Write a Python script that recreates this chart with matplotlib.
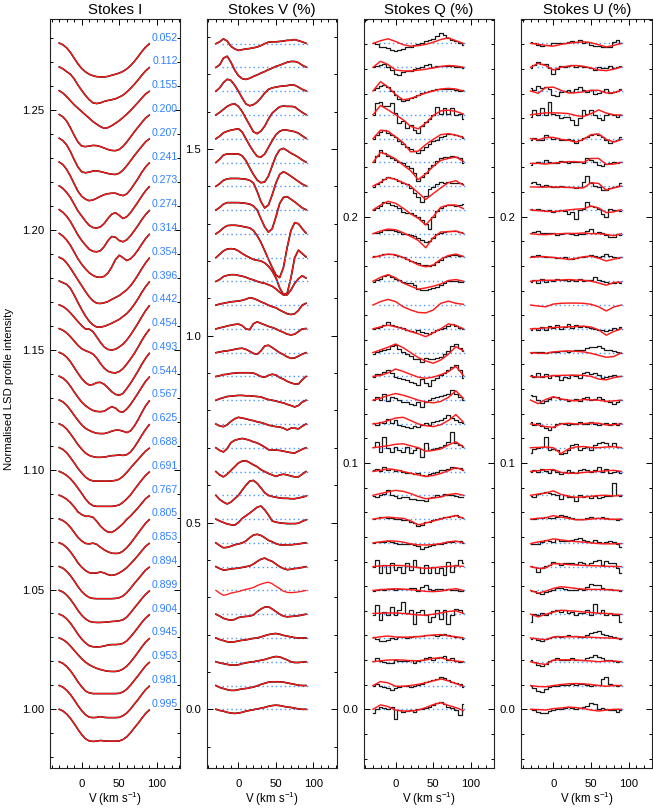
import matplotlib.pyplot as plt
from matplotlib.ticker import MultipleLocator, FormatStrFormatter

plt.rcParams['font.family'] = ['Liberation Sans', 'DejaVu Sans']
plt.rcParams['mathtext.fontset'] = 'custom'
plt.rcParams['mathtext.rm'] = 'Liberation Sans'
plt.rcParams['mathtext.it'] = 'Liberation Sans:italic'

# rotational phases, top to bottom
phases = [0.052, 0.112, 0.155, 0.200, 0.207, 0.241, 0.273, 0.274, 0.314, 0.354,
          0.396, 0.442, 0.454, 0.493, 0.544, 0.567, 0.625, 0.688, 0.691, 0.767,
          0.805, 0.853, 0.894, 0.899, 0.904, 0.945, 0.953, 0.981, 0.995]

# velocity grids (km/s)
vel = [-30, -25, -20, -15, -10, -5, 0, 5, 10, 15, 20, 25, 30, 35, 40, 45, 50,
       55, 60, 65, 70, 75, 80, 85, 90]
vel_model = [-30, -20, -10, 0, 10, 20, 30, 40, 50, 60, 70, 80, 90]

# Stokes I line depth below continuum, units of 1e-4
i_depth = [
    [0,7,20,39,63,87,106,120,130,136,140,141,141,139,134,130,125,118,108,94,77,57,36,17,3],
    [0,8,20,31,50,76,98,119,137,150,153,150,144,140,137,133,126,118,105,90,73,55,35,17,3],
    [0,10,25,42,59,73,87,101,115,129,140,150,157,154,146,136,125,112,98,83,66,49,31,14,3],
    [0,10,28,56,87,115,132,134,132,129,130,134,140,146,150,151,146,133,115,94,73,53,34,15,3],
    [0,10,28,56,90,120,140,144,141,137,136,139,143,147,150,151,146,133,115,94,73,53,34,15,3],
    [0,11,31,59,91,122,143,155,161,158,151,143,136,132,130,130,136,140,133,115,92,69,43,21,4],
    [0,11,28,49,77,105,126,147,165,174,176,171,157,136,118,112,123,136,129,112,90,67,43,21,4],
    [0,11,28,50,78,106,129,148,165,174,176,171,154,129,112,115,129,134,126,109,88,66,42,21,4],
    [0,11,28,50,78,106,129,148,164,175,182,183,179,165,140,109,91,101,113,106,90,69,45,22,4],
    [0,8,24,46,70,95,119,143,165,182,192,193,190,185,176,168,160,148,136,119,98,74,48,24,4],
    [0,7,14,31,59,90,119,146,168,183,192,192,189,183,176,168,160,148,136,119,98,74,48,24,4],
    [0,7,18,34,52,70,87,101,101,112,134,157,176,186,189,185,176,164,147,126,102,77,50,25,4],
    [0,7,18,34,52,70,84,92,98,106,123,146,165,178,183,185,179,167,148,127,104,78,50,25,4],
    [0,7,20,39,63,87,109,126,136,134,126,125,133,148,164,175,179,171,151,129,104,78,50,25,4],
    [0,8,22,42,66,88,108,123,134,143,147,148,146,136,127,133,147,150,137,118,95,71,46,22,4],
    [0,8,22,42,64,85,104,118,127,134,139,140,140,136,130,126,126,130,136,129,109,83,53,25,4],
    [0,8,22,42,64,87,106,122,132,137,140,140,139,136,133,132,130,132,129,118,98,74,48,24,4],
    [0,8,22,42,64,87,106,123,134,139,140,140,140,140,139,137,132,120,104,85,67,50,32,15,3],
    [0,7,17,31,49,70,92,115,133,143,146,146,146,146,146,144,140,129,115,98,77,56,36,17,3],
    [0,7,17,31,49,70,81,88,88,92,109,129,144,154,155,146,133,119,101,87,70,53,34,15,3],
    [0,7,18,35,56,77,92,102,104,101,106,118,129,137,143,144,143,134,120,102,81,60,39,18,3],
    [0,7,20,38,60,84,102,116,125,127,126,122,126,133,136,133,126,116,104,88,71,53,34,15,3],
    [0,7,20,38,60,84,104,119,129,133,134,134,134,134,134,133,130,123,109,91,71,53,34,15,3],
    [0,7,20,38,60,84,104,119,129,133,134,134,133,132,130,129,127,123,112,94,74,55,35,17,3],
    [0,7,20,38,60,84,104,120,132,136,137,136,133,129,127,127,126,122,112,95,76,56,35,17,3],
    [0,7,18,34,52,70,87,101,112,120,127,132,136,139,140,140,137,130,118,101,81,60,38,18,3],
    [0,7,20,38,60,84,105,122,130,133,133,133,133,133,133,133,132,126,115,98,78,59,38,18,3],
    [0,7,20,38,60,84,105,122,132,134,133,130,133,134,134,134,133,126,115,98,78,59,38,18,3],
    [0,7,20,38,60,84,106,123,132,134,133,130,132,133,133,133,132,126,115,98,78,59,38,18,3],
]

# Stokes V (units of 1e-3 %)
v_prof = [
    [0,5,13,7,-7,-14,-18,-16,-14,-13,-11,-9,-5,0,4,5,5,6,7,9,9,11,8,5,1],
    [0,7,25,30,14,-7,-22,-30,-32,-29,-24,-20,-15,-11,-6,-2,3,6,10,14,16,16,13,6,1],
    [0,9,23,32,29,16,0,-18,-34,-39,-36,-29,-18,-5,5,9,11,13,14,15,17,16,11,5,1],
    [0,7,15,23,28,30,23,9,-9,-27,-45,-50,-43,-30,-11,5,14,22,24,23,23,22,14,7,1],
    [0,7,16,20,23,25,27,18,0,-18,-34,-47,-49,-41,-23,-5,11,20,24,23,21,19,15,8,1],
    [0,9,20,23,23,23,23,18,5,-14,-32,-47,-54,-52,-36,-9,18,34,38,32,25,20,14,7,1],
    [0,7,16,20,21,21,21,20,19,16,9,-14,-41,-58,-50,-23,9,32,39,34,27,20,13,6,1],
    [0,7,16,20,20,20,20,19,18,16,11,0,-23,-45,-59,-50,-18,18,34,36,29,22,14,6,1],
    [0,7,16,22,23,23,22,20,18,16,9,-5,-23,-45,-68,-90,-110,-117,-90,-36,9,30,27,14,2],
    [0,9,18,23,24,23,18,11,5,0,-5,-7,-9,-14,-23,-36,-54,-81,-99,-95,-54,0,20,11,2],
    [0,5,13,16,18,18,16,14,11,7,4,0,-3,-5,-9,-13,-20,-29,-36,-36,-23,-5,7,15,9],
    [0,3,5,7,9,10,11,13,16,20,18,14,9,5,0,-4,-7,-13,-18,-23,-25,-23,-14,0,5],
    [0,3,5,8,10,12,13,9,0,-2,14,19,15,11,7,4,0,-5,-9,-14,-16,-14,-7,0,1],
    [0,2,4,5,7,9,11,12,9,4,-2,-4,5,18,20,14,7,0,-5,-11,-15,-14,-9,-4,0],
    [0,2,5,6,8,9,10,10,10,10,9,5,0,-2,3,6,4,-3,-7,-13,-17,-20,-20,-9,0],
    [0,4,7,10,11,12,13,13,12,12,11,10,9,5,2,0,-2,-5,-7,-11,-14,-18,-14,-5,0],
    [0,-5,-7,-2,7,14,18,16,14,11,9,6,4,1,-3,-5,-7,-8,-11,-16,-11,-11,-13,-6,0],
    [0,-7,-11,-2,14,20,23,25,23,20,16,13,8,2,-5,-6,-6,-7,-9,-11,-13,-14,-9,-4,0],
    [0,-9,-14,-7,3,13,23,28,29,24,18,13,5,0,-5,-9,-13,-9,-7,-9,-12,-14,-14,-7,0],
    [0,-11,-18,-23,-18,-9,0,14,27,38,40,32,20,7,0,-3,-5,-7,-8,-8,-9,-9,-7,-5,-2],
    [0,-5,-9,-13,-15,-16,-9,2,9,16,24,32,35,25,11,-5,-8,-10,-11,-12,-12,-12,-11,-6,-2],
    [0,-7,-13,-12,-9,-5,-3,0,5,14,21,23,20,14,7,3,-2,-5,-6,-5,-5,-4,-3,-1,0],
    [0,-5,-9,-8,-6,-5,-4,-2,0,2,7,14,20,23,18,14,7,0,-5,-8,-7,-5,-4,-2,0],
    [0,-7,-13,-11,-7,-5,-3,0,3,5,8,13,17,20,22,18,11,5,-2,-5,-6,-5,-4,-2,0],
    [0,-5,-11,-14,-16,-14,-9,-7,-6,-5,-2,7,14,19,20,14,7,0,-5,-7,-6,-5,-4,-2,0],
    [0,-4,-7,-10,-11,-10,-8,-6,-5,-3,-1,0,3,6,9,11,12,10,7,5,3,1,0,0,0],
    [0,-3,-5,-7,-9,-9,-8,-5,-3,-1,0,2,4,6,9,12,14,13,9,5,0,-2,-2,-1,0],
    [0,-5,-8,-11,-13,-13,-11,-9,-8,-6,-4,-1,3,6,9,10,10,10,9,7,5,3,1,0,0],
    [0,-3,-5,-8,-10,-11,-10,-8,-5,-3,-1,1,3,5,8,10,11,10,8,6,5,3,1,0,0],
]
v_observed = [True] * 23 + [False] + [True] * 5

# Stokes Q observations and model (units of 1e-4 %)
q_obs = [
    [0,-4,-16,-14,-20,-27,-30,-27,-22,-16,-14,-7,-3,3,11,14,19,30,41,35,24,16,8,3,-5],
    [0,5,11,14,3,-11,-27,-30,-20,-16,-14,-9,-5,3,8,14,3,5,4,5,7,4,1,0,-3],
    [4,11,19,24,16,0,-16,-34,-39,-35,-30,-23,-16,-8,-3,0,3,7,8,7,9,7,3,1,3],
    [0,47,54,34,34,46,7,-35,-24,-54,-43,-62,-74,-47,-30,-16,0,32,5,26,5,26,-1,5,-19],
    [0,16,27,34,24,14,7,-11,-24,-34,-43,-51,-58,-47,-34,-20,-11,-4,7,11,18,20,16,11,4],
    [0,27,50,38,27,16,9,3,-4,-14,-24,-45,-76,-61,-45,-24,-11,4,16,20,23,24,22,16,-4],
    [-3,7,16,30,38,34,27,20,14,7,-7,-27,-43,-65,-41,-11,-3,7,16,14,16,14,14,11,7],
    [0,8,16,34,30,22,14,7,-7,-11,-14,-20,-27,-41,-57,-78,-27,-3,8,14,19,18,16,19,23],
    [1,4,8,14,16,14,11,7,0,-3,-5,-11,-16,-24,-34,-30,-16,-3,4,8,12,12,9,5,3],
    [5,8,11,14,16,14,11,7,0,-5,-14,-20,-24,-30,-32,-35,-30,-20,-11,0,8,11,9,7,5],
    [-3,7,11,22,24,19,11,7,-3,-7,-9,-14,-30,-35,-34,-31,-27,-22,-14,-9,0,3,0,-1,-3],
    None,
    [0,5,8,16,28,14,11,7,3,-3,-8,-12,-5,-14,-16,-19,-11,-5,1,5,11,19,11,5,1],
    [-4,3,7,11,16,27,32,16,3,-7,-14,-24,-27,-38,-20,-27,-24,-20,-16,-7,7,27,35,20,7],
    [-3,8,8,16,24,14,-3,-7,-11,-16,-22,-27,-36,-11,-27,-38,-16,-8,4,14,24,38,45,24,-7],
    [0,11,0,27,-4,14,7,0,-7,-7,-14,-20,-7,-27,-7,0,7,14,16,20,27,43,27,14,0],
    [3,-4,8,4,22,3,16,-4,-7,-11,-16,-8,-11,-5,3,-3,7,11,16,24,35,24,14,7,3],
    [4,24,-16,45,0,-16,4,-9,-16,4,-23,-9,0,-36,18,-9,-7,-3,4,11,24,65,18,11,4],
    [5,12,3,19,5,12,3,5,-3,-8,-5,-11,-5,-14,-19,-11,-8,-3,5,8,12,19,16,14,5],
    [-3,-5,0,7,23,0,-3,-9,-7,-5,-14,-16,-18,-19,-22,-11,-5,0,-3,7,3,0,-4,-5,-5],
    [0,5,8,7,5,3,1,-1,-4,-4,-11,-16,-30,-24,-12,-11,-3,0,4,7,8,12,16,8,4],
    [0,4,5,3,8,4,1,-3,-4,-4,-5,-8,-14,-23,-18,-14,-9,-5,-3,0,3,4,7,9,0],
    [0,27,-27,7,-27,14,-14,0,-27,14,-14,27,0,-27,7,-27,0,-27,-7,-34,20,-20,7,27,14],
    [-1,3,5,1,4,7,3,4,7,4,8,11,-1,14,20,4,1,7,5,3,7,1,0,-3,-4],
    [-4,36,-24,9,-4,30,-4,16,50,3,16,-38,9,16,-4,-31,-11,16,-18,16,-38,-4,23,16,3],
    [3,-5,-11,-14,-8,0,-3,3,4,0,4,7,7,8,11,14,14,8,12,16,11,8,5,3,-3],
    [4,14,4,0,-7,-4,7,4,3,5,8,-4,4,8,14,19,8,14,19,23,8,14,4,0,4],
    [-3,8,0,-7,-12,-19,-8,-4,-3,-1,-5,-3,3,8,14,19,22,28,35,32,24,16,11,5,-5],
    [-16,0,11,7,3,8,-41,-4,-9,-7,-3,-9,0,3,7,11,16,27,30,20,11,7,-3,-23,23],
]
q_model = [
    [0,11,19,8,-5,-11,-9,-4,5,16,23,11,0],
    [0,24,11,-11,-15,-15,-12,-8,-3,3,7,5,0],
    [0,38,16,-14,-36,-30,-19,-8,0,8,11,8,0],
    [0,38,20,0,-20,-47,-57,-34,-3,16,19,14,3],
    [0,34,30,7,-16,-54,-51,-24,-3,16,20,14,4],
    [0,41,30,14,-11,-34,-70,-47,-16,8,16,22,4],
    [0,16,35,27,14,0,-27,-54,-30,-7,14,22,4],
    [0,20,35,27,7,-16,-34,-61,-27,11,20,20,5],
    [0,11,19,16,4,-11,-27,-57,-16,7,8,11,1],
    [0,7,14,11,0,-14,-30,-38,-30,-7,8,14,4],
    [0,16,27,14,-7,-20,-32,-27,-20,-11,3,7,0],
    [0,14,23,14,-7,-20,-30,-32,-20,7,16,7,3],
    [0,8,15,8,0,-11,-20,-32,-16,0,20,14,0],
    [0,11,22,35,20,0,-20,-34,-43,-30,-7,24,7],
    [0,4,14,30,20,8,-3,-8,-3,7,19,41,3],
    [0,8,19,27,20,11,0,-7,-11,-5,11,38,7],
    [0,4,14,24,27,14,0,-7,-11,-3,14,38,7],
    [0,4,8,14,16,8,0,-14,-11,-5,11,24,3],
    [0,5,11,7,0,-7,-14,-20,-16,-8,3,16,5],
    [0,7,14,20,16,7,-5,-14,-11,-7,3,7,0],
    [0,4,8,5,3,-7,-24,-16,-8,0,8,14,3],
    [0,4,8,7,3,-4,-8,-9,-7,-3,4,7,0],
    [0,3,4,5,4,0,-4,-7,-5,-1,1,3,1],
    [0,3,5,7,5,3,0,-4,-5,-3,3,7,0],
    [3,4,5,5,3,0,-3,-4,0,5,11,14,3],
    [0,5,8,4,3,4,5,9,12,14,8,5,0],
    [0,4,7,8,7,4,4,7,14,16,8,3,0],
    [0,16,11,-3,-3,0,5,11,19,27,19,8,-3],
    [0,18,11,-3,-7,-7,-3,7,19,27,16,7,-5],
]

# Stokes U observations and model (units of 1e-4 %)
u_obs = [
    [7,0,-7,-11,-7,-7,0,3,3,3,5,11,7,14,3,7,-7,-11,-11,-14,-16,-14,7,14,3],
    [-5,8,22,15,15,-5,-26,-9,4,1,4,8,1,4,1,-1,-5,-12,-1,-5,-3,4,-3,0,4],
    [11,4,20,11,15,7,-16,-20,-3,1,4,-3,7,15,4,-3,4,-12,-9,1,7,-7,-5,1,7],
    [-7,19,0,26,0,53,5,-1,-15,-8,-8,-22,-42,-15,19,5,19,-1,-15,-22,-1,5,0,-7,0],
    [-4,4,-4,-4,14,7,0,4,-4,-4,0,-7,-18,-7,4,7,14,20,14,7,-4,-18,-11,-7,7],
    [-11,-4,3,-1,9,3,-1,-4,7,3,-1,3,3,3,-1,16,9,0,-11,-15,-7,-4,3,-1,3],
    [11,18,8,0,4,0,-3,-5,0,-3,-3,-5,-9,-3,18,41,14,0,-5,-16,-16,-9,-3,0,11],
    [5,-1,5,-1,-4,1,-8,-4,-1,-3,-15,-7,-35,-1,5,32,16,12,5,-15,-28,5,-1,-1,-4],
    [1,7,12,4,1,4,1,-5,0,3,1,-3,-5,-3,0,11,18,4,8,3,-5,-12,-15,-3,-5],
    [5,7,9,5,3,0,0,-3,-4,0,-5,-8,-4,0,3,7,9,5,3,5,14,5,0,-1,3],
    [-3,4,-7,11,-3,4,1,11,4,7,1,7,1,11,1,4,7,18,7,1,-4,-9,-7,-5,-7],
    None,
    [-3,5,-5,8,-3,11,4,15,1,8,19,5,15,8,11,8,3,0,-3,-5,-8,-5,5,1,8],
    [0,1,3,1,-1,3,3,3,5,7,3,5,9,11,12,19,22,23,26,18,12,9,7,3,-1],
    [5,-1,15,-1,9,-8,5,1,-15,-1,-8,5,1,-8,12,19,9,15,5,-8,-4,3,5,1,1],
    [20,16,0,-11,-4,3,11,14,5,4,-3,-1,3,-5,7,14,0,3,14,3,-3,-7,-14,-7,0],
    [8,-3,3,-7,-16,-24,-11,-1,4,0,-4,0,1,8,1,0,8,-1,-4,-1,4,-3,5,-4,3],
    [-23,-7,-3,4,45,-9,-7,-9,-26,-20,-9,11,15,-9,-3,4,-9,11,20,24,20,7,18,4,1],
    [-1,5,-1,12,3,-5,5,-1,-11,-1,5,-1,-8,5,12,5,-1,5,19,-1,12,-5,0,3,-5],
    [-4,-7,7,9,14,11,7,0,-16,0,-7,-7,-23,0,-7,-4,-9,-4,-9,-7,-4,-4,49,0,-4],
    [-1,0,3,5,9,4,3,9,16,12,7,3,1,-1,1,4,8,3,5,8,4,1,-1,-3,-1],
    [-3,-5,-4,4,11,7,4,14,9,8,7,11,14,18,11,8,4,11,5,0,5,8,3,-3,-16],
    [3,0,-20,-7,1,7,20,14,7,16,14,16,12,20,14,7,14,23,27,7,24,14,16,-7,-27],
    [-1,-4,-12,-16,-8,-3,1,8,8,4,3,1,3,4,3,12,24,22,22,11,7,4,1,0,-1],
    [-31,0,-4,3,-4,3,14,16,9,16,3,9,-4,3,3,16,-4,43,3,16,-4,5,-4,-4,-31],
    [-3,1,-8,-11,-5,1,5,8,3,8,11,8,7,5,4,14,19,24,28,16,11,7,4,-1,-5],
    [7,0,-14,-18,-9,4,7,14,7,9,8,14,7,9,9,14,20,27,20,14,7,9,4,0,3],
    [-3,-12,-22,-26,-14,-5,-3,0,1,4,3,5,1,8,5,1,-3,1,3,28,35,5,1,-3,1],
    [0,-3,-9,-16,-14,-5,-1,3,1,5,9,4,1,4,8,14,27,23,3,7,0,-3,-4,-9,-3],
]
u_model = [
    [0,-3,-8,-11,-4,1,4,7,3,-5,-14,-8,0],
    [0,16,7,-11,0,5,7,4,-3,-11,-14,-8,1],
    [0,-9,14,16,3,-8,-7,-3,3,3,-8,-7,3],
    [0,4,8,8,7,5,-3,-7,5,20,7,0,-1],
    [0,-5,4,5,-3,-7,-14,-3,16,19,-3,-14,-4],
    [-4,-4,-7,-3,0,3,3,0,16,16,-8,-7,0],
    [-3,-4,-4,-3,-4,-5,-7,-7,14,11,-16,-7,0],
    [0,-3,-5,-7,-4,0,3,5,16,8,-11,-8,1],
    [0,-3,-4,-1,0,1,1,3,0,0,-3,-8,0],
    [0,3,3,0,-3,-8,-4,3,5,-3,-14,-7,0],
    [0,3,4,4,5,7,5,4,0,-7,-16,-5,-3],
    [0,-4,-7,4,7,8,8,7,3,-7,-24,-8,0],
    [0,1,4,5,7,8,9,11,7,-4,-26,-11,0],
    [0,-3,-3,3,5,7,5,3,-3,-11,-19,-16,-1],
    [0,-3,-1,3,4,5,5,4,0,-11,-14,-5,0],
    [0,-14,3,14,5,0,-3,3,1,0,-5,-3,0],
    [0,-4,-11,-14,0,3,0,1,4,3,-4,-3,0],
    [0,1,3,0,-24,-5,3,5,1,0,3,4,0],
    [0,3,7,8,-3,-8,-7,-4,-1,0,3,5,0],
    [0,5,9,18,4,-4,-8,-7,-4,-1,0,-3,0],
    [0,3,5,14,8,3,-3,-3,0,3,0,-1,0],
    [-3,4,8,16,12,8,5,3,0,-3,-4,-4,-3],
    [0,-7,-5,12,11,8,7,5,4,3,1,1,0],
    [0,-11,-3,8,15,12,8,5,4,4,3,1,-1],
    [0,-11,0,8,16,14,12,9,7,4,3,0,-1],
    [0,-4,-7,4,5,5,5,4,3,1,0,-1,-3],
    [0,-7,-11,7,8,8,7,5,3,0,3,3,0],
    [0,-4,-5,0,4,7,8,7,4,0,-3,0,0],
    [0,-1,-3,3,5,9,7,3,-3,-7,-3,0,0],
]

n = len(phases)
W, H = 653.0, 810.0
fig = plt.figure(figsize=(6.53, 8.10), dpi=100)


def make_axes(left_px, width_px):
    return fig.add_axes([left_px / W, 41.7 / H, width_px / W, 749 / H])


ax_i = make_axes(50, 130)
ax_v = make_axes(206.7, 130)
ax_q = make_axes(363.7, 130.6)
ax_u = make_axes(521.3, 131)

blue = '#2f80ff'
dot_blue = '#4d95ff'
red = '#ff1a1a'

# Stokes I
i_step = 0.00993
for k in range(n):
    base = 1.0 + i_step * (n - 1 - k)
    y = [base - d * 1e-4 for d in i_depth[k]]
    ax_i.plot(vel, y, color='black', lw=1.15)
    ax_i.plot(vel, y, color=red, lw=0.95)
    ax_i.text(128, base + 0.0023, '%.3f' % phases[k], color=blue,
              fontsize=7.6, ha='right', va='center')
ax_i.set_ylim(0.97538, 1.28798)

# Stokes V
v_step = 0.06363
for k in range(n):
    base = v_step * (n - 1 - k)
    ax_v.hlines(base, -22, 93, colors=dot_blue, linestyles=(0, (1, 2.2)), lw=1.0)
    y = [base + p * 1e-3 for p in v_prof[k]]
    if v_observed[k]:
        ax_v.plot(vel, y, color='black', lw=1.2)
    ax_v.plot(vel, y, color=red, lw=0.95)
ax_v.set_ylim(-0.1579, 1.8469)

# Stokes Q and U
qu_step = 0.009655
for ax, obs, model in [(ax_q, q_obs, q_model), (ax_u, u_obs, u_model)]:
    for k in range(n):
        base = qu_step * (n - 1 - k)
        ax.hlines(base, -22, 93, colors=dot_blue, linestyles=(0, (1, 2.2)), lw=1.0)
        if obs[k] is not None:
            ax.plot(vel, [base + p * 1e-4 for p in obs[k]], color='#1a1a1a',
                    lw=0.9, drawstyle='steps-mid')
        ax.plot(vel_model, [base + p * 1e-4 for p in model[k]], color=red, lw=1.05)
    ax.set_ylim(-0.02395, 0.28015)

titles = ['Stokes I', 'Stokes V (%)', 'Stokes Q (%)', 'Stokes U (%)']
for ax, title in zip([ax_i, ax_v, ax_q, ax_u], titles):
    ax.set_xlim(-42.3, 131)
    ax.set_title(title, fontsize=10.8, pad=4)
    ax.set_xlabel('V (km s$^{-1}$)', fontsize=8.3, labelpad=0.5)
    ax.xaxis.set_major_locator(MultipleLocator(50))
    ax.xaxis.set_minor_locator(MultipleLocator(10))
    ax.tick_params(which='both', direction='in', top=True, right=True,
                   labelsize=8.2, width=0.7)
    ax.tick_params(which='major', length=4.5)
    ax.tick_params(which='minor', length=2.5)
    ax.tick_params(axis='x', pad=8)
    ax.tick_params(axis='y', pad=4)
    for s in ax.spines.values():
        s.set_linewidth(0.8)
        s.set_color('#222222')

ax_i.yaxis.set_major_locator(MultipleLocator(0.05))
ax_i.yaxis.set_minor_locator(MultipleLocator(0.01))
ax_i.yaxis.set_major_formatter(FormatStrFormatter('%.2f'))
ax_v.yaxis.set_major_locator(MultipleLocator(0.5))
ax_v.yaxis.set_minor_locator(MultipleLocator(0.1))
ax_v.yaxis.set_major_formatter(FormatStrFormatter('%.1f'))
for ax in [ax_q, ax_u]:
    ax.yaxis.set_major_locator(MultipleLocator(0.1))
    ax.yaxis.set_minor_locator(MultipleLocator(0.01))
    ax.yaxis.set_major_formatter(FormatStrFormatter('%.1f'))

fig.text(0.0138, 0.52, 'Normalised LSD profile intensity', rotation=90,
         fontsize=8.2, ha='center', va='center')

fig.savefig('out.png', dpi=100)
